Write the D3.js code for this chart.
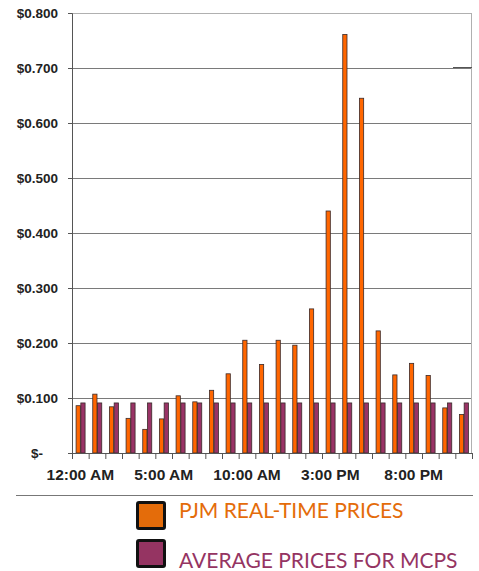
<!DOCTYPE html>
<html>
<head>
<meta charset="utf-8">
<script src="https://cdn.jsdelivr.net/npm/d3@7"></script>
<style>
  body { margin: 0; background: #fff; }
  svg { display: block; }
</style>
</head>
<body>
<script>
// hours of the day (one bar pair per hour)
const hours = [
  "12:00 AM", "1:00 AM", "2:00 AM", "3:00 AM", "4:00 AM", "5:00 AM",
  "6:00 AM", "7:00 AM", "8:00 AM", "9:00 AM", "10:00 AM", "11:00 AM",
  "12:00 PM", "1:00 PM", "2:00 PM", "3:00 PM", "4:00 PM", "5:00 PM",
  "6:00 PM", "7:00 PM", "8:00 PM", "9:00 PM", "10:00 PM", "11:00 PM"
];
const hourLabels = ["12:00 AM", "5:00 AM", "10:00 AM", "3:00 PM", "8:00 PM"];
const seriesNames = ["PJM REAL-TIME PRICES", "AVERAGE PRICES FOR MCPS"];
const pjmPrices = [
  0.086, 0.107, 0.084, 0.063, 0.043, 0.062, 0.104, 0.093, 0.114, 0.144,
  0.205, 0.161, 0.205, 0.196, 0.262, 0.440, 0.761, 0.645, 0.222, 0.142,
  0.163, 0.141, 0.082, 0.070
];
const mcpsPrices = [
  0.091, 0.091, 0.091, 0.091, 0.091, 0.091, 0.091, 0.091, 0.091, 0.091,
  0.091, 0.091, 0.091, 0.091, 0.091, 0.091, 0.091, 0.091, 0.091, 0.091,
  0.091, 0.091, 0.091, 0.091
];
const yTicks = [0, 0.1, 0.2, 0.3, 0.4, 0.5, 0.6, 0.7, 0.8];

/********************************************************/
const svgWidth = 479;
const svgHeight = 571;
const margin = { top: 13, right: 7, bottom: 118, left: 72 };
const chartWidth = svgWidth - margin.left - margin.right;
const chartHeight = svgHeight - margin.top - margin.bottom;

const barColors = ["#ff6600", "#993366"];
const legendColors = ["#e46c0a", "#953462"];

const svg = d3.select("body").append("svg")
  .attr("width", svgWidth)
  .attr("height", svgHeight);

const chartGroup = svg.append("g")
  .attr("transform", `translate(${margin.left}, ${margin.top})`);

/********************************************************/
const yScale = d3.scaleLinear().domain([0, 0.8]).range([chartHeight, 0]);

const x0 = d3.scaleBand()
  .domain(hours)
  .range([0, chartWidth])
  .paddingInner(0.43)
  .paddingOuter(0.215);

const x1 = d3.scaleBand()
  .domain(seriesNames)
  .range([0, x0.bandwidth()]);

// boundary scale for the category tick marks
const xEdges = d3.scaleLinear().domain([0, hours.length]).range([0, chartWidth]);

// gridlines
chartGroup.append("g")
  .selectAll("line")
  .data(yTicks.filter(d => d > 0))
  .join("line")
  .attr("x1", 0)
  .attr("x2", chartWidth)
  .attr("y1", d => Math.round(yScale(d)) + 0.5)
  .attr("y2", d => Math.round(yScale(d)) + 0.5)
  .attr("stroke", d => d === 0.8 ? "#b0b0b0" : "#7a7a7a")
  .attr("stroke-width", 1);

// right border
chartGroup.append("line")
  .attr("x1", chartWidth - 0.5).attr("x2", chartWidth - 0.5)
  .attr("y1", 0).attr("y2", chartHeight)
  .attr("stroke", "#b0b0b0");

// little dark stub at the right end of the 0.700 line
chartGroup.append("line")
  .attr("x1", chartWidth - 19).attr("x2", chartWidth)
  .attr("y1", Math.round(yScale(0.7)) - 0.5)
  .attr("y2", Math.round(yScale(0.7)) - 0.5)
  .attr("stroke", "#555");

/********************************************************/
// bars
const rows = hours.map((h, i) => ({ hour: h, values: [pjmPrices[i], mcpsPrices[i]] }));

const groups = chartGroup.append("g")
  .selectAll("g")
  .data(rows)
  .join("g")
  .attr("transform", d => `translate(${x0(d.hour)},0)`);

groups.selectAll("rect")
  .data(d => d.values.map((v, k) => ({ name: seriesNames[k], value: v, k: k })))
  .join("rect")
  .attr("x", d => x1(d.name) + 0.5)
  .attr("y", d => yScale(d.value))
  .attr("width", x1.bandwidth() - 0.5)
  .attr("height", d => chartHeight - yScale(d.value))
  .attr("fill", d => barColors[d.k])
  .attr("stroke", "#3a2a2a")
  .attr("stroke-width", 0.8);

/********************************************************/
// y axis
const leftAxis = d3.axisLeft(yScale)
  .tickValues(yTicks)
  .tickSize(4)
  .tickPadding(10)
  .tickFormat(d => d === 0 ? "$-" : "$" + d3.format(".3f")(d));

const yAxisG = chartGroup.append("g").call(leftAxis);
yAxisG.select(".domain").attr("stroke", "#555");
yAxisG.selectAll(".tick line").attr("stroke", "#555");
yAxisG.selectAll(".tick text")
  .attr("font-family", "Arial, 'Liberation Sans', sans-serif")
  .attr("font-weight", "bold")
  .attr("font-size", "13.5px")
  .attr("fill", "#222");
yAxisG.selectAll(".tick")
  .filter(d => d === 0)
  .select("text")
  .attr("x", -29);

// x axis: tick marks at category edges
const edgeAxis = d3.axisBottom(xEdges)
  .tickValues(d3.range(hours.length + 1))
  .tickSize(6)
  .tickFormat("");
const edgeG = chartGroup.append("g")
  .attr("transform", `translate(0, ${chartHeight})`)
  .call(edgeAxis);
edgeG.select(".domain").attr("stroke", "#555");
edgeG.selectAll(".tick line").attr("stroke", "#555");

// x axis: labels every 5 hours
const labelAxis = d3.axisBottom(x0)
  .tickValues(hourLabels)
  .tickSize(0)
  .tickPadding(16);
const labelG = chartGroup.append("g")
  .attr("transform", `translate(0, ${chartHeight})`)
  .call(labelAxis);
labelG.select(".domain").remove();
labelG.selectAll(".tick text")
  .attr("font-family", "Arial, 'Liberation Sans', sans-serif")
  .attr("font-weight", "bold")
  .attr("font-size", "15.5px")
  .attr("fill", "#222");

/********************************************************/
// separator line under the chart
svg.append("line")
  .attr("x1", 16).attr("x2", 473)
  .attr("y1", 495.5).attr("y2", 495.5)
  .attr("stroke", "#777");

// legend
const legend = svg.append("g")
  .selectAll("g")
  .data(seriesNames)
  .join("g")
  .attr("transform", (d, i) => `translate(136, ${501 + i * 38})`);

legend.append("rect")
  .attr("x", 1.5).attr("y", 1.5)
  .attr("width", 27).attr("height", 26)
  .attr("rx", 1.5)
  .attr("fill", (d, i) => legendColors[i])
  .attr("stroke", "#111")
  .attr("stroke-width", 3);

legend.append("text")
  .attr("x", 43)
  .attr("y", (d, i) => i === 0 ? 17 : 29)
  .attr("font-family", "Lato, 'Open Sans', sans-serif")
  .attr("font-size", "21px")
  .attr("fill", (d, i) => legendColors[i])
  .text(d => d);
</script>
</body>
</html>
